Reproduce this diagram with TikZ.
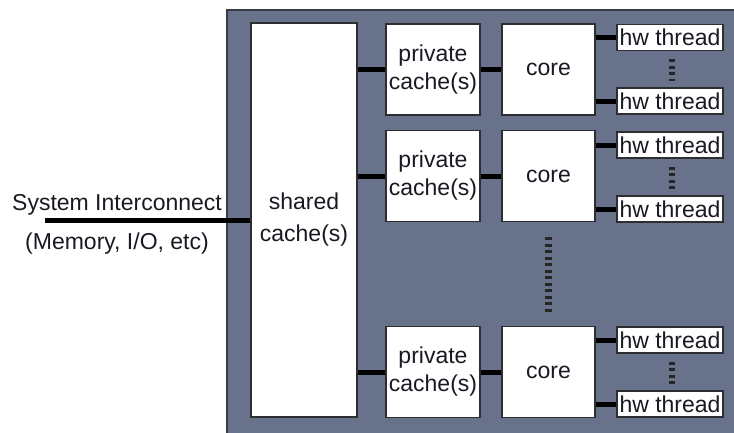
\documentclass[tikz,border=0pt]{standalone}
\usepackage{fontspec}
\setmainfont{Liberation Sans}
\definecolor{panelc}{RGB}{104,115,139}
\definecolor{paneledge}{RGB}{55,60,72}
\definecolor{boxedge}{RGB}{45,45,50}
\definecolor{txt}{RGB}{25,25,35}
\begin{document}
\begin{tikzpicture}[x=1pt,y=-1pt,
  box/.style={draw=boxedge,line width=1.2pt,fill=white,inner sep=0pt,align=center,
    text=txt,font=\fontsize{23}{28}\selectfont},
  privbox/.style={box,minimum width=94pt,minimum height=91pt},
  corebox/.style={box,minimum width=93pt,minimum height=91pt},
  hwbox/.style={box,minimum width=106pt,minimum height=26pt},
  wire/.style={line width=5pt,draw=black},
  vdots/.style={line width=7pt,draw=black!85,dash pattern=on 3pt off 3.5pt},
  lbl/.style={inner sep=0pt,text=txt,font=\fontsize{23}{28}\selectfont}]
\useasboundingbox (0,0) rectangle (734,432);
% panel
\fill[panelc] (227,10) rectangle (740,440);
\draw[paneledge,line width=1.5pt] (227,440) -- (227,10) -- (740,10);
% shared cache
\node[box,minimum width=106pt,minimum height=394pt,
  font=\fontsize{23}{32}\selectfont] (shared) at (304,220) {shared\\cache(s)};
% rows
\node[privbox] (p1) at (433,69.5) {private\\cache(s)};
\node[privbox] (p2) at (433,176) {private\\cache(s)};
\node[privbox] (p3) at (433,372) {private\\cache(s)};
\node[corebox] (c1) at (548.5,69.5) {core};
\node[corebox] (c2) at (548.5,176) {core};
\node[corebox] (c3) at (548.5,372) {core};
\node[hwbox] (h1a) at (670,37.5) {hw thread};
\node[hwbox] (h1b) at (670,101) {hw thread};
\node[hwbox] (h2a) at (670,145) {hw thread};
\node[hwbox] (h2b) at (670,209) {hw thread};
\node[hwbox] (h3a) at (670,340) {hw thread};
\node[hwbox] (h3b) at (670,404) {hw thread};
% connectors
\foreach \i in {1,2,3}{
  \draw[wire] (shared.east |- p\i.west) -- (p\i.west);
  \draw[wire] (p\i.east) -- (c\i.west);
  \draw[wire] (c\i.east |- h\i a.west) -- (h\i a.west);
  \draw[wire] (c\i.east |- h\i b.west) -- (h\i b.west);
  \draw[vdots,line width=6pt] ([xshift=2pt,yshift=-8pt]h\i a.south) -- ([xshift=2pt,yshift=6pt]h\i b.north);
}
\draw[vdots] ([yshift=-15pt]c2.south) -- ([yshift=12pt]c3.north);
% system interconnect
\coordinate (sysL) at (45,220);
\draw[wire] (sysL) -- (shared.west |- sysL);
\node[lbl,anchor=base] (sys) at (117,210) {System Interconnect};
\node[lbl,anchor=base] (mem) at (117,249) {(Memory, I/O, etc)};
\end{tikzpicture}
\end{document}
